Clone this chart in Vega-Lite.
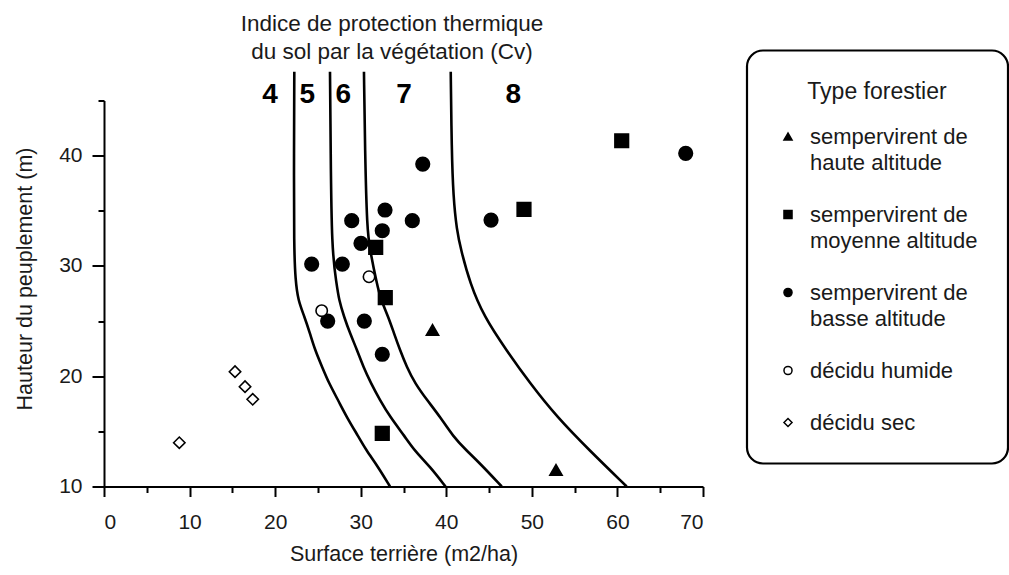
{
  "$schema": "https://vega.github.io/schema/vega-lite/v6.json",
  "width": 599,
  "height": 386,
  "autosize": {"type": "none"},
  "padding": {"left": 104, "top": 100.5, "right": 306, "bottom": 88.5},
  "background": "white",
  "title": {
    "text": ["Indice de protection thermique", "du sol par la végétation (Cv)"],
    "font": "Liberation Sans",
    "fontSize": 22.5,
    "fontWeight": "normal",
    "color": "#1a1a1a",
    "anchor": "middle",
    "frame": "group",
    "dx": -11.5,
    "offset": -14,
    "lineHeight": 28
  },
  "config": {
    "view": {"stroke": null},
    "font": "Liberation Sans",
    "legend": {"strokeWidth": 2.2},
    "style": {"guide-label": {"lineHeight": 26}}
  },
  "datasets": {
    "curves": [
      {"curve": "c1", "i": 0, "x": 22.24, "y": 47.61},
      {"curve": "c1", "i": 1, "x": 22.20, "y": 40.51},
      {"curve": "c1", "i": 2, "x": 22.20, "y": 31.44},
      {"curve": "c1", "i": 3, "x": 22.38, "y": 28.72},
      {"curve": "c1", "i": 4, "x": 22.67, "y": 26.91},
      {"curve": "c1", "i": 5, "x": 23.43, "y": 25.39},
      {"curve": "c1", "i": 6, "x": 24.07, "y": 23.89},
      {"curve": "c1", "i": 7, "x": 24.66, "y": 22.38},
      {"curve": "c1", "i": 8, "x": 25.48, "y": 20.86},
      {"curve": "c1", "i": 9, "x": 26.29, "y": 19.36},
      {"curve": "c1", "i": 10, "x": 27.35, "y": 17.84},
      {"curve": "c1", "i": 11, "x": 28.34, "y": 16.33},
      {"curve": "c1", "i": 12, "x": 29.74, "y": 14.51},
      {"curve": "c1", "i": 13, "x": 30.62, "y": 13.31},
      {"curve": "c1", "i": 14, "x": 32.02, "y": 11.80},
      {"curve": "c1", "i": 15, "x": 33.42, "y": 10.00},
      {"curve": "c2", "i": 0, "x": 26.41, "y": 47.61},
      {"curve": "c2", "i": 1, "x": 26.49, "y": 40.51},
      {"curve": "c2", "i": 2, "x": 26.61, "y": 31.44},
      {"curve": "c2", "i": 3, "x": 27.17, "y": 28.42},
      {"curve": "c2", "i": 4, "x": 27.46, "y": 26.91},
      {"curve": "c2", "i": 5, "x": 28.05, "y": 25.39},
      {"curve": "c2", "i": 6, "x": 28.75, "y": 23.89},
      {"curve": "c2", "i": 7, "x": 29.57, "y": 22.38},
      {"curve": "c2", "i": 8, "x": 30.30, "y": 20.86},
      {"curve": "c2", "i": 9, "x": 31.20, "y": 19.36},
      {"curve": "c2", "i": 10, "x": 32.25, "y": 17.84},
      {"curve": "c2", "i": 11, "x": 33.42, "y": 16.33},
      {"curve": "c2", "i": 12, "x": 35.18, "y": 14.51},
      {"curve": "c2", "i": 13, "x": 36.23, "y": 13.31},
      {"curve": "c2", "i": 14, "x": 38.10, "y": 11.80},
      {"curve": "c2", "i": 15, "x": 39.91, "y": 10.00},
      {"curve": "c3", "i": 0, "x": 30.38, "y": 47.61},
      {"curve": "c3", "i": 1, "x": 30.50, "y": 40.51},
      {"curve": "c3", "i": 2, "x": 30.74, "y": 33.25},
      {"curve": "c3", "i": 3, "x": 31.09, "y": 31.44},
      {"curve": "c3", "i": 4, "x": 31.87, "y": 28.42},
      {"curve": "c3", "i": 5, "x": 32.37, "y": 26.91},
      {"curve": "c3", "i": 6, "x": 33.22, "y": 25.39},
      {"curve": "c3", "i": 7, "x": 33.89, "y": 23.89},
      {"curve": "c3", "i": 8, "x": 34.59, "y": 22.38},
      {"curve": "c3", "i": 9, "x": 35.37, "y": 20.86},
      {"curve": "c3", "i": 10, "x": 36.34, "y": 19.36},
      {"curve": "c3", "i": 11, "x": 37.75, "y": 17.84},
      {"curve": "c3", "i": 12, "x": 39.27, "y": 16.33},
      {"curve": "c3", "i": 13, "x": 40.82, "y": 14.51},
      {"curve": "c3", "i": 14, "x": 42.30, "y": 13.31},
      {"curve": "c3", "i": 15, "x": 43.94, "y": 12.10},
      {"curve": "c3", "i": 16, "x": 46.48, "y": 10.00},
      {"curve": "c4", "i": 0, "x": 40.52, "y": 47.61},
      {"curve": "c4", "i": 1, "x": 40.63, "y": 40.51},
      {"curve": "c4", "i": 2, "x": 40.82, "y": 36.27},
      {"curve": "c4", "i": 3, "x": 41.22, "y": 33.25},
      {"curve": "c4", "i": 4, "x": 41.72, "y": 31.44},
      {"curve": "c4", "i": 5, "x": 42.77, "y": 28.42},
      {"curve": "c4", "i": 6, "x": 44.41, "y": 25.39},
      {"curve": "c4", "i": 7, "x": 47.00, "y": 22.38},
      {"curve": "c4", "i": 8, "x": 49.78, "y": 19.36},
      {"curve": "c4", "i": 9, "x": 52.90, "y": 16.33},
      {"curve": "c4", "i": 10, "x": 56.68, "y": 13.31},
      {"curve": "c4", "i": 11, "x": 61.08, "y": 10.00}
    ],
    "cv": [
      {"label": "4", "x": 19.40, "y": 45.5},
      {"label": "5", "x": 23.76, "y": 45.5},
      {"label": "6", "x": 27.97, "y": 45.5},
      {"label": "7", "x": 35.06, "y": 45.5},
      {"label": "8", "x": 47.83, "y": 45.5}
    ],
    "points": [
      {"type": "sempervirent de basse altitude", "x": 37.25, "y": 39.24},
      {"type": "sempervirent de basse altitude", "x": 32.84, "y": 35.07},
      {"type": "sempervirent de basse altitude", "x": 28.95, "y": 34.10},
      {"type": "sempervirent de basse altitude", "x": 36.03, "y": 34.10},
      {"type": "sempervirent de basse altitude", "x": 32.52, "y": 33.19},
      {"type": "sempervirent de basse altitude", "x": 30.03, "y": 32.05},
      {"type": "sempervirent de basse altitude", "x": 24.27, "y": 30.17},
      {"type": "sempervirent de basse altitude", "x": 27.85, "y": 30.17},
      {"type": "sempervirent de basse altitude", "x": 26.14, "y": 25.00},
      {"type": "sempervirent de basse altitude", "x": 30.42, "y": 25.00},
      {"type": "sempervirent de basse altitude", "x": 32.52, "y": 21.99},
      {"type": "sempervirent de basse altitude", "x": 45.23, "y": 34.16},
      {"type": "sempervirent de basse altitude", "x": 67.98, "y": 40.21},
      {"type": "sempervirent de moyenne altitude", "x": 31.75, "y": 31.69},
      {"type": "sempervirent de moyenne altitude", "x": 32.87, "y": 27.12},
      {"type": "sempervirent de moyenne altitude", "x": 32.52, "y": 14.82},
      {"type": "sempervirent de moyenne altitude", "x": 49.08, "y": 35.13},
      {"type": "sempervirent de moyenne altitude", "x": 60.50, "y": 41.35},
      {"type": "sempervirent de haute altitude", "x": 38.39, "y": 24.19},
      {"type": "sempervirent de haute altitude", "x": 52.82, "y": 11.50},
      {"type": "décidu humide", "x": 30.97, "y": 29.02},
      {"type": "décidu humide", "x": 25.44, "y": 25.94},
      {"type": "décidu sec", "x": 15.31, "y": 20.41},
      {"type": "décidu sec", "x": 16.48, "y": 19.05},
      {"type": "décidu sec", "x": 17.38, "y": 17.91},
      {"type": "décidu sec", "x": 8.80, "y": 13.97}
    ]
  },
  "layer": [
    {
      "data": {"name": "curves"},
      "mark": {"type": "line", "stroke": "black", "strokeWidth": 2.6, "interpolate": "basis"},
      "encoding": {
        "x": {
          "field": "x", "type": "quantitative",
          "scale": {"domain": [0, 70], "nice": false, "zero": false},
          "axis": {
            "title": "Surface terrière (m2/ha)",
            "values": [0, 5, 10, 15, 20, 25, 30, 35, 40, 45, 50, 55, 60, 65, 70],
            "labelExpr": "datum.value % 10 === 0 ? datum.label : ''",
            "tickSize": {"condition": {"test": "datum.value % 10 === 0", "value": 10}, "value": 6},
            "grid": false,
            "domainColor": "black", "domainWidth": 2,
            "tickColor": "black", "tickWidth": 2,
            "labelFont": "Liberation Sans", "labelFontSize": 21, "labelColor": "#1a1a1a", "labelPadding": 15,
            "titleFont": "Liberation Sans", "titleFontSize": 21.5, "titleFontWeight": "normal", "titleColor": "#1a1a1a", "titlePadding": 11
          }
        },
        "y": {
          "field": "y", "type": "quantitative",
          "scale": {"domain": [10, 45], "nice": false, "zero": false},
          "axis": {
            "title": "Hauteur du peuplement (m)",
            "values": [10, 15, 20, 25, 30, 35, 40, 45],
            "labelExpr": "datum.value % 10 === 0 ? datum.label : ''",
            "tickSize": {"condition": {"test": "datum.value % 10 === 0", "value": 12}, "value": 6},
            "grid": false,
            "domainColor": "black", "domainWidth": 2,
            "tickColor": "black", "tickWidth": 2,
            "labelFont": "Liberation Sans", "labelFontSize": 21, "labelColor": "#1a1a1a", "labelPadding": 10,
            "titleFont": "Liberation Sans", "titleFontSize": 21.5, "titleFontWeight": "normal", "titleColor": "#1a1a1a", "titlePadding": 22,
            "titleY": 178
          }
        },
        "detail": {"field": "curve"},
        "order": {"field": "i", "type": "quantitative"}
      }
    },
    {
      "data": {"name": "cv"},
      "mark": {"type": "text", "font": "Liberation Sans", "fontSize": 28, "fontWeight": "bold", "color": "black", "baseline": "middle", "align": "center"},
      "encoding": {
        "x": {"field": "x", "type": "quantitative", "scale": {"domain": [0, 70], "nice": false, "zero": false}},
        "y": {"field": "y", "type": "quantitative", "scale": {"domain": [10, 45], "nice": false, "zero": false}},
        "text": {"field": "label"}
      }
    },
    {
      "data": {"name": "points"},
      "transform": [{"filter": "datum.type === 'sempervirent de haute altitude'"}],
      "mark": {"type": "point", "opacity": 1, "strokeWidth": 1.6, "size": 150},
      "encoding": {
        "x": {"field": "x", "type": "quantitative", "scale": {"domain": [0, 70], "nice": false, "zero": false}},
        "y": {"field": "y", "type": "quantitative", "scale": {"domain": [10, 45], "nice": false, "zero": false}},
        "shape": {
          "field": "type", "type": "nominal",
          "scale": {
            "domain": ["sempervirent de haute altitude", "sempervirent de moyenne altitude", "sempervirent de basse altitude", "décidu humide", "décidu sec"],
            "range": ["triangle-up", "square", "circle", "circle", "diamond"]
          },
          "legend": {
            "orient": "none", "legendX": 643, "legendY": -50,
            "title": "Type forestier",
            "titleFont": "Liberation Sans", "titleFontSize": 23, "titleFontWeight": "normal", "titleColor": "#1a1a1a", "titlePadding": 22, "titleAnchor": "middle",
            "labelFont": "Liberation Sans", "labelFontSize": 22, "labelColor": "#1a1a1a", "labelLimit": 400, "labelOffset": 11,
            "labelExpr": "indexof(datum.label, 'sempervirent de ') === 0 ? ['sempervirent de', substring(datum.label, 16)] : datum.label",
            "symbolSize": 65, "symbolStrokeColor": "black", "symbolStrokeWidth": 1.5,
            "rowPadding": 30, "padding": 30,
            "strokeColor": "black", "cornerRadius": 16
          }
        },
        "fill": {
          "field": "type", "type": "nominal",
          "scale": {
            "domain": ["sempervirent de haute altitude", "sempervirent de moyenne altitude", "sempervirent de basse altitude", "décidu humide", "décidu sec"],
            "range": ["black", "black", "black", "white", "white"]
          }
        },
        "stroke": {
          "field": "type", "type": "nominal",
          "scale": {
            "domain": ["sempervirent de haute altitude", "sempervirent de moyenne altitude", "sempervirent de basse altitude", "décidu humide", "décidu sec"],
            "range": ["black", "black", "black", "black", "black"]
          }
        }
      }
    },
    {
      "data": {"name": "points"},
      "transform": [{"filter": "datum.type === 'sempervirent de moyenne altitude' || datum.type === 'sempervirent de basse altitude'"}],
      "mark": {"type": "point", "opacity": 1, "strokeWidth": 1.6, "size": 185},
      "encoding": {
        "x": {"field": "x", "type": "quantitative", "scale": {"domain": [0, 70], "nice": false, "zero": false}},
        "y": {"field": "y", "type": "quantitative", "scale": {"domain": [10, 45], "nice": false, "zero": false}},
        "shape": {"field": "type", "type": "nominal"},
        "fill": {"field": "type", "type": "nominal"},
        "stroke": {"field": "type", "type": "nominal"}
      }
    },
    {
      "data": {"name": "points"},
      "transform": [{"filter": "datum.type === 'décidu humide' || datum.type === 'décidu sec'"}],
      "mark": {"type": "point", "opacity": 1, "strokeWidth": 1.6, "size": 130},
      "encoding": {
        "x": {"field": "x", "type": "quantitative", "scale": {"domain": [0, 70], "nice": false, "zero": false}},
        "y": {"field": "y", "type": "quantitative", "scale": {"domain": [10, 45], "nice": false, "zero": false}},
        "shape": {"field": "type", "type": "nominal"},
        "fill": {"field": "type", "type": "nominal"},
        "stroke": {"field": "type", "type": "nominal"}
      }
    }
  ]
}
